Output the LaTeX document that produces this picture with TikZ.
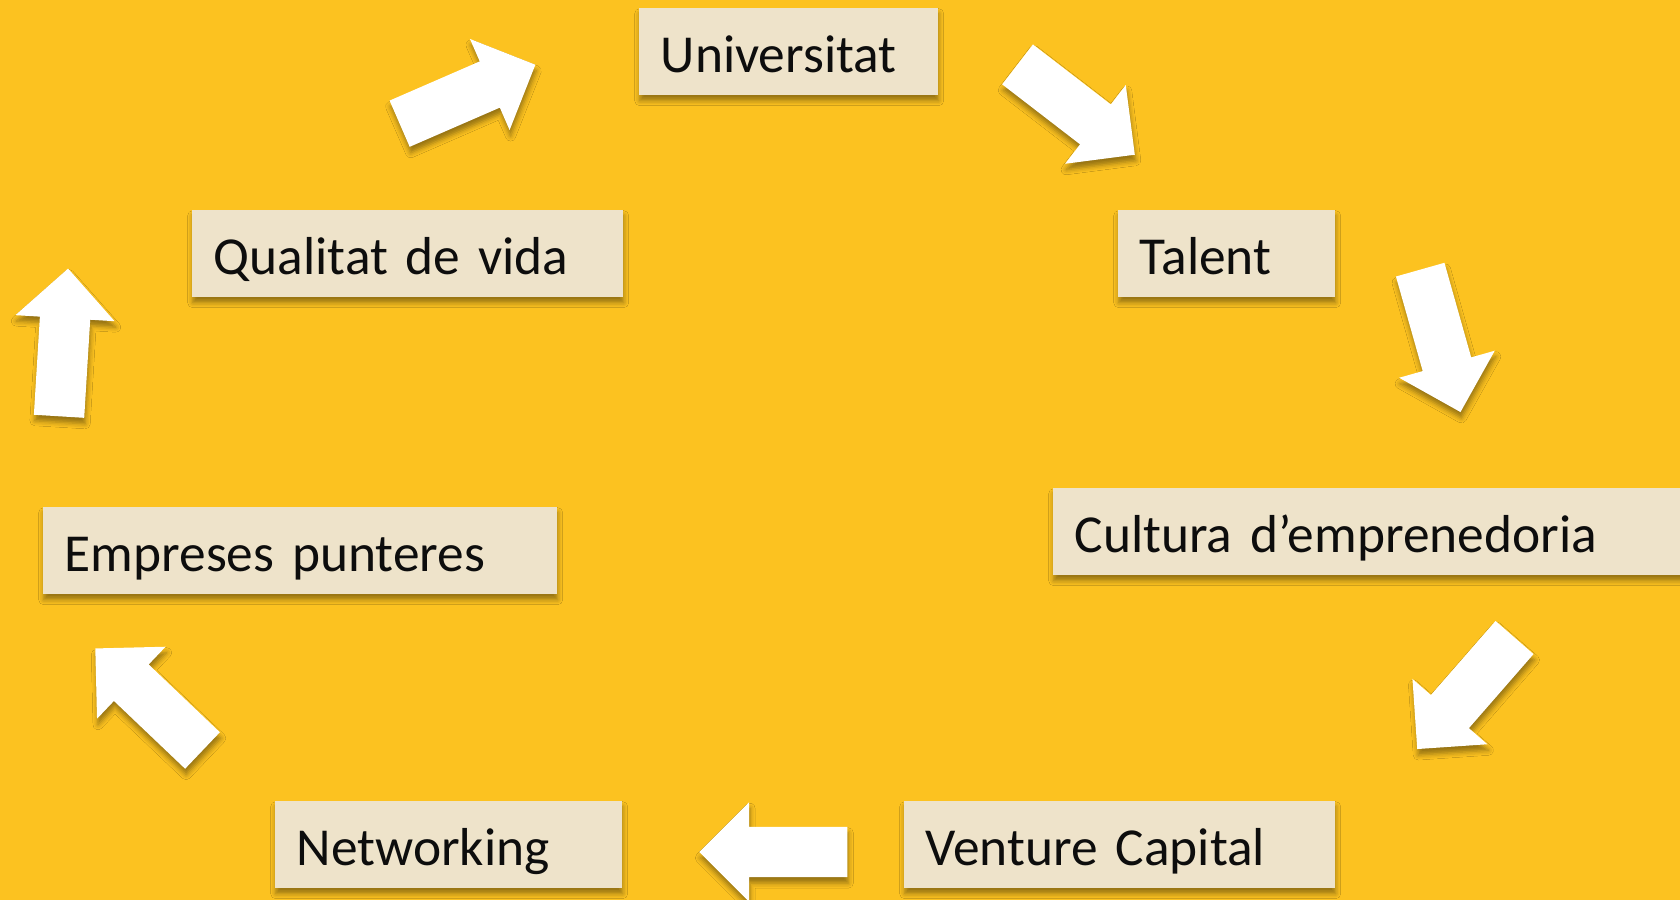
\documentclass[tikz,border=0pt]{standalone}
\usepackage{fontspec}
\setmainfont{Carlito}
\usetikzlibrary{shapes.arrows,shadows.blur}

\definecolor{bgyellow}{HTML}{FCC220}
\definecolor{boxfill}{HTML}{EEE3CA}
\definecolor{boxtext}{HTML}{0D0D0D}

\begin{document}
\begin{tikzpicture}[x=0.1mm,y=0.1mm,font=\fontsize{15.2}{18}\selectfont,
                    text=boxtext]
	\tikzstyle{softshadow}=[blur shadow={shadow xshift=0.1mm,shadow yshift=-0.6mm,
	                        shadow blur radius=0.5mm,shadow opacity=40}]
	\tikzstyle{box}=[fill=boxfill,draw=none,anchor=north west,align=left,
	                 inner xsep=2.2mm,inner ysep=0pt,minimum height=8.7mm,
	                 text height=4.3mm,text depth=0pt,softshadow]
	\tikzstyle{bigarrow}=[single arrow,fill=white,draw=none,anchor=tail,
	                      inner xsep=0pt,inner ysep=2.45mm,
	                      single arrow head extend=2.45mm,minimum height=14.8mm,
	                      softshadow]

	\clip (0,0) rectangle (1680,900);
	\fill[bgyellow] (0,0) rectangle (1680,900);

	\node[box,text width=25.5mm] (U) at (638,893)  {Universitat};
	\node[box,text width=17.3mm] (T) at (1117,691) {Talent};
	\node[box,text width=59.6mm] (C) at (1052,413) {Cultura d’emprenedoria};
	\node[box,text width=38.7mm] (V) at (903,100)  {Venture Capital};
	\node[box,text width=30.3mm] (N) at (274,100)  {Networking};
	\node[box,text width=47.0mm] (E) at (42,394)   {Empreses punteres};
	\node[box,text width=38.7mm] (Q) at (191,691)  {Qualitat de vida};

	\node[bigarrow,rotate=23.5]  (QU) at (399,776)  {};
	\node[bigarrow,rotate=-37.6] (UT) at (1017,836) {};
	\node[bigarrow,rotate=-74.2] (TC) at (1420,631) {};
	\node[bigarrow,rotate=-131.1] (CV) at (1515,263) {};
	\node[bigarrow,rotate=180]   (VN) at (848,48)   {};
	\node[bigarrow,rotate=136.4] (NE) at (203,149)  {};
	\node[bigarrow,rotate=86.5]  (EQ) at (59,483)   {};
\end{tikzpicture}
\end{document}
